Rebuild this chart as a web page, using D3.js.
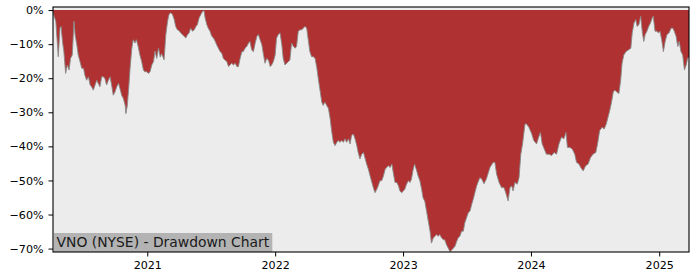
<!DOCTYPE html>
<html>
<head>
<meta charset="utf-8">
<script src="https://cdn.jsdelivr.net/npm/d3@7"></script>
<style>
  html, body { margin: 0; padding: 0; background: #ffffff; }
  svg { display: block; }
  text { font-family: "DejaVu Sans", sans-serif; }
</style>
</head>
<body>
<svg id="chart" width="700" height="280"></svg>
<script>
// ---- data (drawdown in %) ----
const dates = [
  "2020-04-07","2020-04-10","2020-04-15","2020-04-19","2020-04-22","2020-04-27","2020-04-30",
  "2020-05-04","2020-05-08","2020-05-13","2020-05-18","2020-05-23","2020-05-27",
  "2020-06-01","2020-06-06","2020-06-09","2020-06-14","2020-06-18","2020-06-23","2020-06-28",
  "2020-07-03","2020-07-07","2020-07-12","2020-07-17","2020-07-22","2020-07-26","2020-07-31",
  "2020-08-05","2020-08-10","2020-08-14","2020-08-19","2020-08-24","2020-08-29",
  "2020-09-02","2020-09-07","2020-09-12","2020-09-17","2020-09-22","2020-09-26",
  "2020-10-01","2020-10-06","2020-10-11","2020-10-15","2020-10-20","2020-10-25","2020-10-30",
  "2020-11-01","2020-11-05","2020-11-09","2020-11-13","2020-11-18","2020-11-22","2020-11-27",
  "2020-12-01","2020-12-06","2020-12-11","2020-12-16","2020-12-21","2020-12-25","2020-12-31",
  "2021-01-04","2021-01-09","2021-01-14","2021-01-19","2021-01-23","2021-01-28",
  "2021-02-02","2021-02-07","2021-02-11","2021-02-18","2021-02-23","2021-02-28",
  "2021-03-04","2021-03-09","2021-03-14","2021-03-19","2021-03-23","2021-03-28",
  "2021-04-02","2021-04-07","2021-04-11","2021-04-16","2021-04-21","2021-04-26","2021-04-30",
  "2021-05-05","2021-05-10","2021-05-15","2021-05-20","2021-05-24","2021-05-29",
  "2021-06-03","2021-06-07","2021-06-12","2021-06-15","2021-06-20","2021-06-24","2021-06-29",
  "2021-07-04","2021-07-09","2021-07-14","2021-07-18","2021-07-23","2021-07-28",
  "2021-08-02","2021-08-06","2021-08-11","2021-08-16","2021-08-21","2021-08-25","2021-08-30",
  "2021-09-04","2021-09-09","2021-09-14","2021-09-18","2021-09-23","2021-09-28",
  "2021-10-02","2021-10-07","2021-10-12","2021-10-17","2021-10-21","2021-10-26","2021-10-31",
  "2021-11-05","2021-11-10","2021-11-14","2021-11-19","2021-11-24","2021-11-28",
  "2021-12-03","2021-12-08","2021-12-13","2021-12-18","2021-12-22","2021-12-27",
  "2022-01-01","2022-01-05","2022-01-10","2022-01-15","2022-01-20","2022-01-24","2022-01-29",
  "2022-02-03","2022-02-08","2022-02-12","2022-02-17","2022-02-22","2022-02-27",
  "2022-03-03","2022-03-08","2022-03-13","2022-03-18","2022-03-22","2022-03-27",
  "2022-04-01","2022-04-06","2022-04-10","2022-04-15","2022-04-20","2022-04-25","2022-04-30",
  "2022-05-04","2022-05-09","2022-05-14","2022-05-18","2022-05-23","2022-05-28",
  "2022-06-02","2022-06-07","2022-06-11","2022-06-16","2022-06-21","2022-06-26","2022-06-30",
  "2022-07-05","2022-07-10","2022-07-15","2022-07-19","2022-07-24","2022-07-29",
  "2022-08-03","2022-08-07","2022-08-12","2022-08-17","2022-08-22","2022-08-26","2022-08-31",
  "2022-09-05","2022-09-10","2022-09-14","2022-09-19","2022-09-24","2022-09-29",
  "2022-10-04","2022-10-08","2022-10-13","2022-10-18","2022-10-22","2022-10-27",
  "2022-11-01","2022-11-06","2022-11-11","2022-11-15","2022-11-20","2022-11-25","2022-11-30",
  "2022-12-04","2022-12-09","2022-12-14","2022-12-19","2022-12-23","2022-12-28",
  "2023-01-02","2023-01-06","2023-01-11","2023-01-16","2023-01-21","2023-01-25","2023-01-30",
  "2023-02-03","2023-02-09","2023-02-13","2023-02-18","2023-02-23","2023-02-27",
  "2023-03-04","2023-03-09","2023-03-14","2023-03-19","2023-03-23","2023-03-28",
  "2023-04-02","2023-04-07","2023-04-11","2023-04-16","2023-04-21","2023-04-26","2023-04-30",
  "2023-05-05","2023-05-10","2023-05-15","2023-05-20","2023-05-24","2023-05-29",
  "2023-06-03","2023-06-07","2023-06-12","2023-06-17","2023-06-22","2023-06-26",
  "2023-07-01","2023-07-06","2023-07-11","2023-07-16","2023-07-20","2023-07-25","2023-07-30",
  "2023-08-03","2023-08-08","2023-08-13","2023-08-20","2023-08-27",
  "2023-09-06","2023-09-15","2023-09-20","2023-09-25",
  "2023-10-02","2023-10-09","2023-10-16","2023-10-21","2023-10-28",
  "2023-11-02","2023-11-07","2023-11-11","2023-11-16","2023-11-23","2023-11-28",
  "2023-12-03","2023-12-08","2023-12-15","2023-12-19","2023-12-26",
  "2024-01-03","2024-01-09","2024-01-17","2024-01-23","2024-01-28",
  "2024-02-02","2024-02-08","2024-02-14","2024-02-22","2024-02-29",
  "2024-03-07","2024-03-14","2024-03-21","2024-03-28",
  "2024-04-04","2024-04-10","2024-04-14","2024-04-21","2024-04-28",
  "2024-05-05","2024-05-10","2024-05-17","2024-05-22","2024-05-29",
  "2024-06-05","2024-06-12","2024-06-19","2024-06-26",
  "2024-07-04","2024-07-09","2024-07-15","2024-07-22","2024-07-28",
  "2024-08-03","2024-08-08","2024-08-13","2024-08-18","2024-08-23","2024-08-28",
  "2024-09-01","2024-09-08","2024-09-13","2024-09-17","2024-09-22","2024-09-28",
  "2024-10-05","2024-10-12","2024-10-16","2024-10-21","2024-10-26","2024-10-30",
  "2024-11-04","2024-11-09","2024-11-14","2024-11-18","2024-11-22","2024-11-27",
  "2024-12-02","2024-12-07","2024-12-12","2024-12-15","2024-12-20","2024-12-25","2024-12-30",
  "2025-01-03","2025-01-08","2025-01-13","2025-01-18","2025-01-23","2025-01-29",
  "2025-02-04","2025-02-09","2025-02-13","2025-02-18","2025-02-23","2025-02-27",
  "2025-03-04","2025-03-09","2025-03-14","2025-03-19","2025-03-23","2025-03-27"
];
const drawdown = [
  -0.5,-1.8,-3.3,-9.2,-13.7,-5.3,-4.8,
  -9.2,-12.2,-18.6,-16.1,-17.6,-14.2,
  -13.2,-3.3,-7.2,-10.2,-13.2,-15.1,-17.1,
  -17.1,-19.1,-20.6,-19.6,-22.0,-22.5,-23.5,
  -22.0,-20.6,-21.5,-22.5,-19.6,-19.6,
  -20.1,-22.0,-20.6,-19.6,-22.5,-25.0,
  -24.0,-22.5,-21.5,-23.0,-25.0,-26.0,-28.0,
  -30.4,-28.0,-23.0,-17.1,-11.2,-8.7,-9.7,
  -8.7,-10.7,-13.2,-15.1,-17.6,-18.1,-18.1,
  -18.6,-18.1,-16.1,-15.1,-12.0,-14.2,
  -11.2,-13.8,-12.8,-14.6,-7.2,-3.3,
  -1.3,-0.8,-1.3,-2.8,-4.8,-5.8,
  -6.1,-6.8,-7.2,-7.7,-8.2,-7.2,-6.8,
  -5.3,-6.2,-5.8,-4.8,-4.3,-2.3,
  -1.3,-0.5,-0.2,-2.3,-4.3,-5.3,-6.2,
  -7.7,-8.2,-9.2,-10.2,-11.2,-12.2,
  -12.7,-14.2,-14.7,-15.1,-16.6,-16.1,-15.6,
  -16.1,-15.6,-16.6,-16.6,-14.2,-12.2,
  -12.2,-11.2,-10.7,-9.7,-9.2,-11.7,-12.2,
  -9.7,-7.7,-7.2,-8.7,-10.2,-12.7,
  -15.6,-14.2,-14.7,-16.6,-16.1,-15.1,
  -13.2,-8.2,-7.2,-6.7,-10.2,-14.2,-16.1,
  -15.6,-15.1,-14.7,-9.7,-10.7,-11.2,
  -10.7,-6.2,-5.8,-5.8,-5.3,-4.8,
  -5.3,-9.2,-12.2,-13.7,-13.7,-14.2,-17.1,
  -20.1,-23.5,-27.0,-28.0,-27.0,-28.0,
  -28.9,-31.9,-35.4,-38.8,-39.8,-38.8,-38.3,
  -38.8,-38.3,-38.8,-37.8,-38.8,-37.8,
  -39.3,-36.8,-36.4,-37.8,-39.8,-41.8,-43.7,
  -42.3,-41.8,-43.3,-45.2,-46.7,-48.7,
  -50.6,-52.1,-53.6,-52.6,-51.6,-50.1,
  -50.1,-48.7,-46.7,-46.2,-45.7,-46.2,-45.2,
  -47.7,-50.6,-50.6,-51.6,-53.1,-53.6,
  -53.1,-52.6,-51.1,-50.1,-50.6,-49.6,-46.7,
  -45.2,-47.2,-48.7,-50.1,-52.6,-55.1,
  -56.1,-59.0,-62.0,-64.9,-68.4,-66.9,
  -66.4,-65.9,-66.4,-65.9,-66.9,-67.4,-67.4,
  -68.9,-69.9,-70.9,-70.4,-69.9,-69.4,
  -67.9,-66.9,-66.4,-64.9,-64.9,-62.5,
  -61.0,-59.5,-59.0,-57.0,-55.6,-53.6,-51.6,
  -50.5,-49.2,-49.5,-51.0,-49.5,
  -46.2,-44.7,-44.7,-48.2,
  -50.6,-52.1,-52.1,-53.6,-56.0,
  -52.1,-51.6,-53.1,-50.6,-51.1,-49.2,
  -42.3,-39.3,-33.4,-33.4,-34.4,
  -36.3,-38.3,-39.3,-37.3,-35.9,
  -39.3,-40.8,-42.3,-42.3,-42.7,
  -41.8,-42.3,-39.3,-37.3,
  -37.8,-35.9,-40.3,-40.3,-40.8,
  -42.3,-44.7,-45.2,-46.2,-47.2,
  -45.7,-45.2,-43.3,-42.3,
  -41.8,-39.3,-35.4,-34.4,-34.9,
  -33.4,-31.4,-29.4,-27.0,-24.0,-23.5,
  -24.0,-24.5,-20.6,-15.6,-13.2,-12.2,
  -11.7,-11.2,-6.7,-3.8,-2.8,-4.8,
  -4.3,-1.8,-6.7,-9.2,-7.2,-6.2,
  -4.8,-3.8,-2.3,-1.8,-6.2,-6.2,-6.7,
  -6.2,-8.7,-12.2,-9.2,-7.2,-6.7,
  -5.3,-5.3,-6.2,-7.7,-10.7,-9.2,
  -12.2,-13.2,-17.6,-16.1,-14.2,-13.7
];
const yTickValues = [0, -10, -20, -30, -40, -50, -60, -70];
const xTickYears = [2021, 2022, 2023, 2024, 2025];
const chartLabel = "VNO (NYSE) - Drawdown Chart";

// ---- layout ----
const svg = d3.select("#chart");
const mLeft = 53, mRight = 689, mTop = 7, mBottom = 252;
const parse = d3.utcParse("%Y-%m-%d");
const series = dates.map((d, i) => ({ date: parse(d), value: drawdown[i] }));

const x = d3.scaleUtc()
  .domain(d3.extent(series, d => d.date))
  .range([mLeft, mRight]);
const y = d3.scaleLinear()
  .domain([-71.0, 0.9])
  .range([mBottom, mTop]);

// plot background
svg.append("rect")
  .attr("x", mLeft).attr("y", mTop)
  .attr("width", mRight - mLeft).attr("height", mBottom - mTop)
  .attr("fill", "#ececec");

svg.append("clipPath").attr("id", "clip")
  .append("rect")
  .attr("x", mLeft).attr("y", mTop)
  .attr("width", mRight - mLeft).attr("height", mBottom - mTop);

const g = svg.append("g").attr("clip-path", "url(#clip)");

const area = d3.area()
  .x(d => x(d.date))
  .y0(y(0))
  .y1(d => y(d.value));
g.append("path")
  .datum(series)
  .attr("d", area)
  .attr("fill", "#b03131");

const line = d3.line()
  .x(d => x(d.date))
  .y(d => y(d.value));
g.append("path")
  .datum(series)
  .attr("d", line)
  .attr("fill", "none")
  .attr("stroke", "#8a8a8a")
  .attr("stroke-width", 0.9);

// label box
const label = svg.append("g");
const labelText = label.append("text")
  .attr("x", mLeft + 3.5)
  .attr("y", mBottom - 5)
  .attr("font-size", 13.9)
  .attr("fill", "#1a1a1a")
  .text(chartLabel);
const bb = labelText.node().getBBox();
label.insert("rect", "text")
  .attr("x", mLeft + 1)
  .attr("y", mBottom - 19)
  .attr("width", bb.width + 5)
  .attr("height", 19)
  .attr("fill", "#b3b3b3");

// axes
const fmt = v => (v < 0 ? "\u2212" + Math.abs(v) : v) + "%";
const yAxis = d3.axisLeft(y)
  .tickValues(yTickValues)
  .tickFormat(fmt)
  .tickSizeOuter(0)
  .tickSize(4.5)
  .tickPadding(5);
const yg = svg.append("g").attr("transform", `translate(${mLeft},0)`).call(yAxis);

const xAxis = d3.axisBottom(x)
  .tickValues(xTickYears.map(yr => new Date(Date.UTC(yr, 0, 1))))
  .tickFormat(d3.utcFormat("%Y"))
  .tickSizeOuter(0)
  .tickSize(4.5)
  .tickPadding(4.5);
const xg = svg.append("g").attr("transform", `translate(0,${mBottom})`).call(xAxis);

[yg, xg].forEach(a => {
  a.select(".domain").remove();
  a.selectAll(".tick line").attr("stroke", "#000").attr("stroke-width", 1);
  a.selectAll(".tick text")
    .attr("font-size", 11.1)
    .attr("fill", "#000")
    .attr("font-family", "DejaVu Sans, sans-serif");
});

// frame
svg.append("rect")
  .attr("x", mLeft).attr("y", mTop)
  .attr("width", mRight - mLeft).attr("height", mBottom - mTop)
  .attr("fill", "none")
  .attr("stroke", "#000")
  .attr("stroke-width", 1.1);

if (dates.length !== drawdown.length) console.error("length mismatch", dates.length, drawdown.length);
</script>
</body>
</html>
